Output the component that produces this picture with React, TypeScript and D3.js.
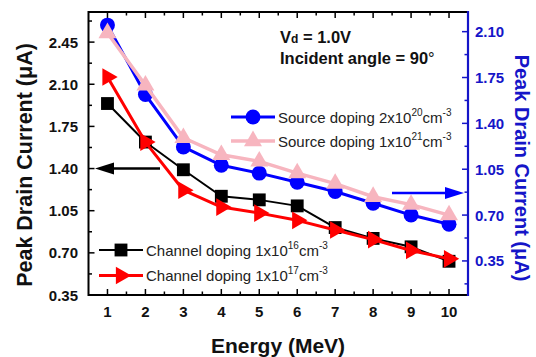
import React from "react";
import * as d3 from "d3";

// energies (MeV)
const energy = [1, 2, 3, 4, 5, 6, 7, 8, 9, 10];

// left axis series (uA)
const channel16 = [1.94, 1.62, 1.39, 1.17, 1.14, 1.09, 0.91, 0.82, 0.75, 0.63];
const channel17 = [2.16, 1.62, 1.22, 1.08, 1.03, 0.97, 0.89, 0.81, 0.72, 0.65];

// right axis series (uA)
const source20 = [2.15, 1.62, 1.22, 1.08, 1.02, 0.95, 0.88, 0.79, 0.7, 0.63];
const source21 = [2.09, 1.69, 1.29, 1.16, 1.11, 1.02, 0.94, 0.84, 0.78, 0.7];

const leftTicks = [0.35, 0.7, 1.05, 1.4, 1.75, 2.1, 2.45];
const rightTicks = [0.35, 0.7, 1.05, 1.4, 1.75, 2.1];

const FONT = "'Liberation Sans', Arial, Helvetica, sans-serif";
const BLUE = "#0000ff";
const AXIS_BLUE = "#1515c8";
const PINK = "#f7b5bf";
const RED = "#ff0000";

const W = 536;
const H = 357;

export default function App() {
  const x = d3.scaleLinear().domain([0.5, 10.5]).range([88.5, 468]);
  const yL = d3.scaleLinear().domain([0.35, 2.7]).range([295, 12]);
  const yR = d3.scaleLinear().domain([0.09, 2.25]).range([295, 12]);

  const [x0, x1] = x.range();
  const [yb, yt] = yL.range();

  const series = [
    { key: "ch16", values: channel16, y: yL, color: "#000", lw: 2, sym: d3.symbolSquare, size: 165, rot: 0 },
    { key: "ch17", values: channel17, y: yL, color: RED, lw: 3, sym: d3.symbolTriangle, size: 135, rot: 90 },
    { key: "s20", values: source20, y: yR, color: BLUE, lw: 3, sym: d3.symbolCircle, size: 175, rot: 0 },
    { key: "s21", values: source21, y: yR, color: PINK, lw: 3.5, sym: d3.symbolTriangle, size: 140, rot: 0 },
  ];

  const legend = [
    { s: series[2], lx: 253, ly: 117, text: "Source doping 2x10", exp: "20" },
    { s: series[3], lx: 253, ly: 141, text: "Source doping 1x10", exp: "21" },
    { s: series[0], lx: 121, ly: 250, text: "Channel doping 1x10", exp: "16" },
    { s: series[1], lx: 121, ly: 275.5, text: "Channel doping 1x10", exp: "17" },
  ];

  const xMinor = energy.map((e) => e - 0.5).concat([10.5]).filter((v) => v > 0.5 && v < 10.5);
  const lMinor = leftTicks.map((v) => v + 0.175).filter((v) => v < 2.7);
  const rMinor = [rightTicks[0] - 0.175].concat(rightTicks.map((v) => v + 0.175)).filter((v) => v > 0.09 && v < 2.25);

  const sym = (s: any) => d3.symbol().type(s.sym).size(s.size)() as string;

  return (
    <svg width={W} height={H} style={{ position: "absolute", left: 0, top: 0, background: "#fff" }} fontFamily={FONT}>
      {/* ticks, inward */}
      <g stroke="#000" strokeWidth={1.5}>
        {energy.map((e) => (
          <g key={"xt" + e}>
            <line x1={x(e)} x2={x(e)} y1={yb} y2={yb - 6} />
            <line x1={x(e)} x2={x(e)} y1={yt} y2={yt + 6} />
          </g>
        ))}
        {xMinor.map((e) => (
          <g key={"xm" + e}>
            <line x1={x(e)} x2={x(e)} y1={yb} y2={yb - 3.5} />
            <line x1={x(e)} x2={x(e)} y1={yt} y2={yt + 3.5} />
          </g>
        ))}
        {leftTicks.map((v) => (
          <line key={"lt" + v} x1={x0} x2={x0 + 6} y1={yL(v)} y2={yL(v)} />
        ))}
        {lMinor.map((v) => (
          <line key={"lm" + v} x1={x0} x2={x0 + 3.5} y1={yL(v)} y2={yL(v)} />
        ))}
      </g>
      <g stroke={AXIS_BLUE} strokeWidth={1.5}>
        {rightTicks.map((v) => (
          <line key={"rt" + v} x1={x1} x2={x1 - 6} y1={yR(v)} y2={yR(v)} />
        ))}
        {rMinor.map((v) => (
          <line key={"rm" + v} x1={x1} x2={x1 - 3.5} y1={yR(v)} y2={yR(v)} />
        ))}
      </g>

      {/* frame */}
      <path d={`M${x1},${yt}H${x0}V${yb}H${x1}`} fill="none" stroke="#000" strokeWidth={2} />
      <line x1={x1} x2={x1} y1={yt - 1} y2={yb + 1} stroke={AXIS_BLUE} strokeWidth={2.2} />

      {/* tick labels */}
      <g fontSize={15} fontWeight="bold" fill="#111">
        {energy.map((e) => (
          <text key={"xl" + e} x={x(e)} y={317} textAnchor="middle">{e}</text>
        ))}
        {leftTicks.map((v) => (
          <text key={"ll" + v} x={78} y={yL(v) + 5.5} textAnchor="end">{v.toFixed(2)}</text>
        ))}
      </g>
      <g fontSize={15} fontWeight="bold" fill={AXIS_BLUE}>
        {rightTicks.map((v) => (
          <text key={"rl" + v} x={475} y={yR(v) + 5.5}>{v.toFixed(2)}</text>
        ))}
      </g>

      {/* axis titles */}
      <text x={278} y={353} textAnchor="middle" fontSize={21} fontWeight="bold" fill="#111">Energy (MeV)</text>
      <text transform="translate(32,165) rotate(-90)" textAnchor="middle" fontSize={21.5} fontWeight="bold" fill="#111">
        Peak Drain Current (μA)
      </text>
      <text transform="translate(515,168) rotate(90)" textAnchor="middle" fontSize={20} fontWeight="bold" fill={AXIS_BLUE}>
        Peak Drain Current (μA)
      </text>

      {/* series */}
      {series.map((s) => {
        const line = d3
          .line<number>()
          .x((_, i) => x(energy[i]))
          .y((d) => s.y(d));
        return (
          <g key={s.key}>
            <path d={line(s.values) as string} fill="none" stroke={s.color} strokeWidth={s.lw} strokeLinejoin="round" />
            {s.values.map((v, i) => (
              <path
                key={i}
                d={sym(s)}
                fill={s.color}
                transform={`translate(${x(energy[i])},${s.y(v)}) rotate(${s.rot})`}
              />
            ))}
          </g>
        );
      })}

      {/* arrows */}
      <g>
        <line x1={160} x2={106} y1={168.5} y2={168.5} stroke="#000" strokeWidth={2.5} />
        <path d="M95,168.5L114,162.5L114,174.5Z" fill="#000" />
        <line x1={392} x2={452} y1={193} y2={193} stroke={BLUE} strokeWidth={2.5} />
        <path d="M464,193L445,187L445,199Z" fill={BLUE} />
      </g>

      {/* annotation */}
      <g fontWeight="bold" fill="#111" fontSize={16.5}>
        <text x={280} y={43}>
          V<tspan fontSize={12}>d</tspan> = 1.0V
        </text>
        <text x={280} y={63.5}>
          Incident angle = 90<tspan fontWeight="normal">°</tspan>
        </text>
      </g>

      {/* legends */}
      {legend.map((l) => (
        <g key={l.text + l.exp}>
          <line x1={l.lx - 22} x2={l.lx + 22} y1={l.ly} y2={l.ly} stroke={l.s.color} strokeWidth={l.s.lw} />
          <path d={sym(l.s)} fill={l.s.color} transform={`translate(${l.lx},${l.ly}) rotate(${l.s.rot})`} />
          <text x={l.lx + 25} y={l.ly + 5.5} fontSize={15} fill="#222">
            {l.text}
            <tspan fontSize={10} dy={-7}>{l.exp}</tspan>
            <tspan dy={7}>cm</tspan>
            <tspan fontSize={10} dy={-7}>-3</tspan>
          </text>
        </g>
      ))}
    </svg>
  );
}
